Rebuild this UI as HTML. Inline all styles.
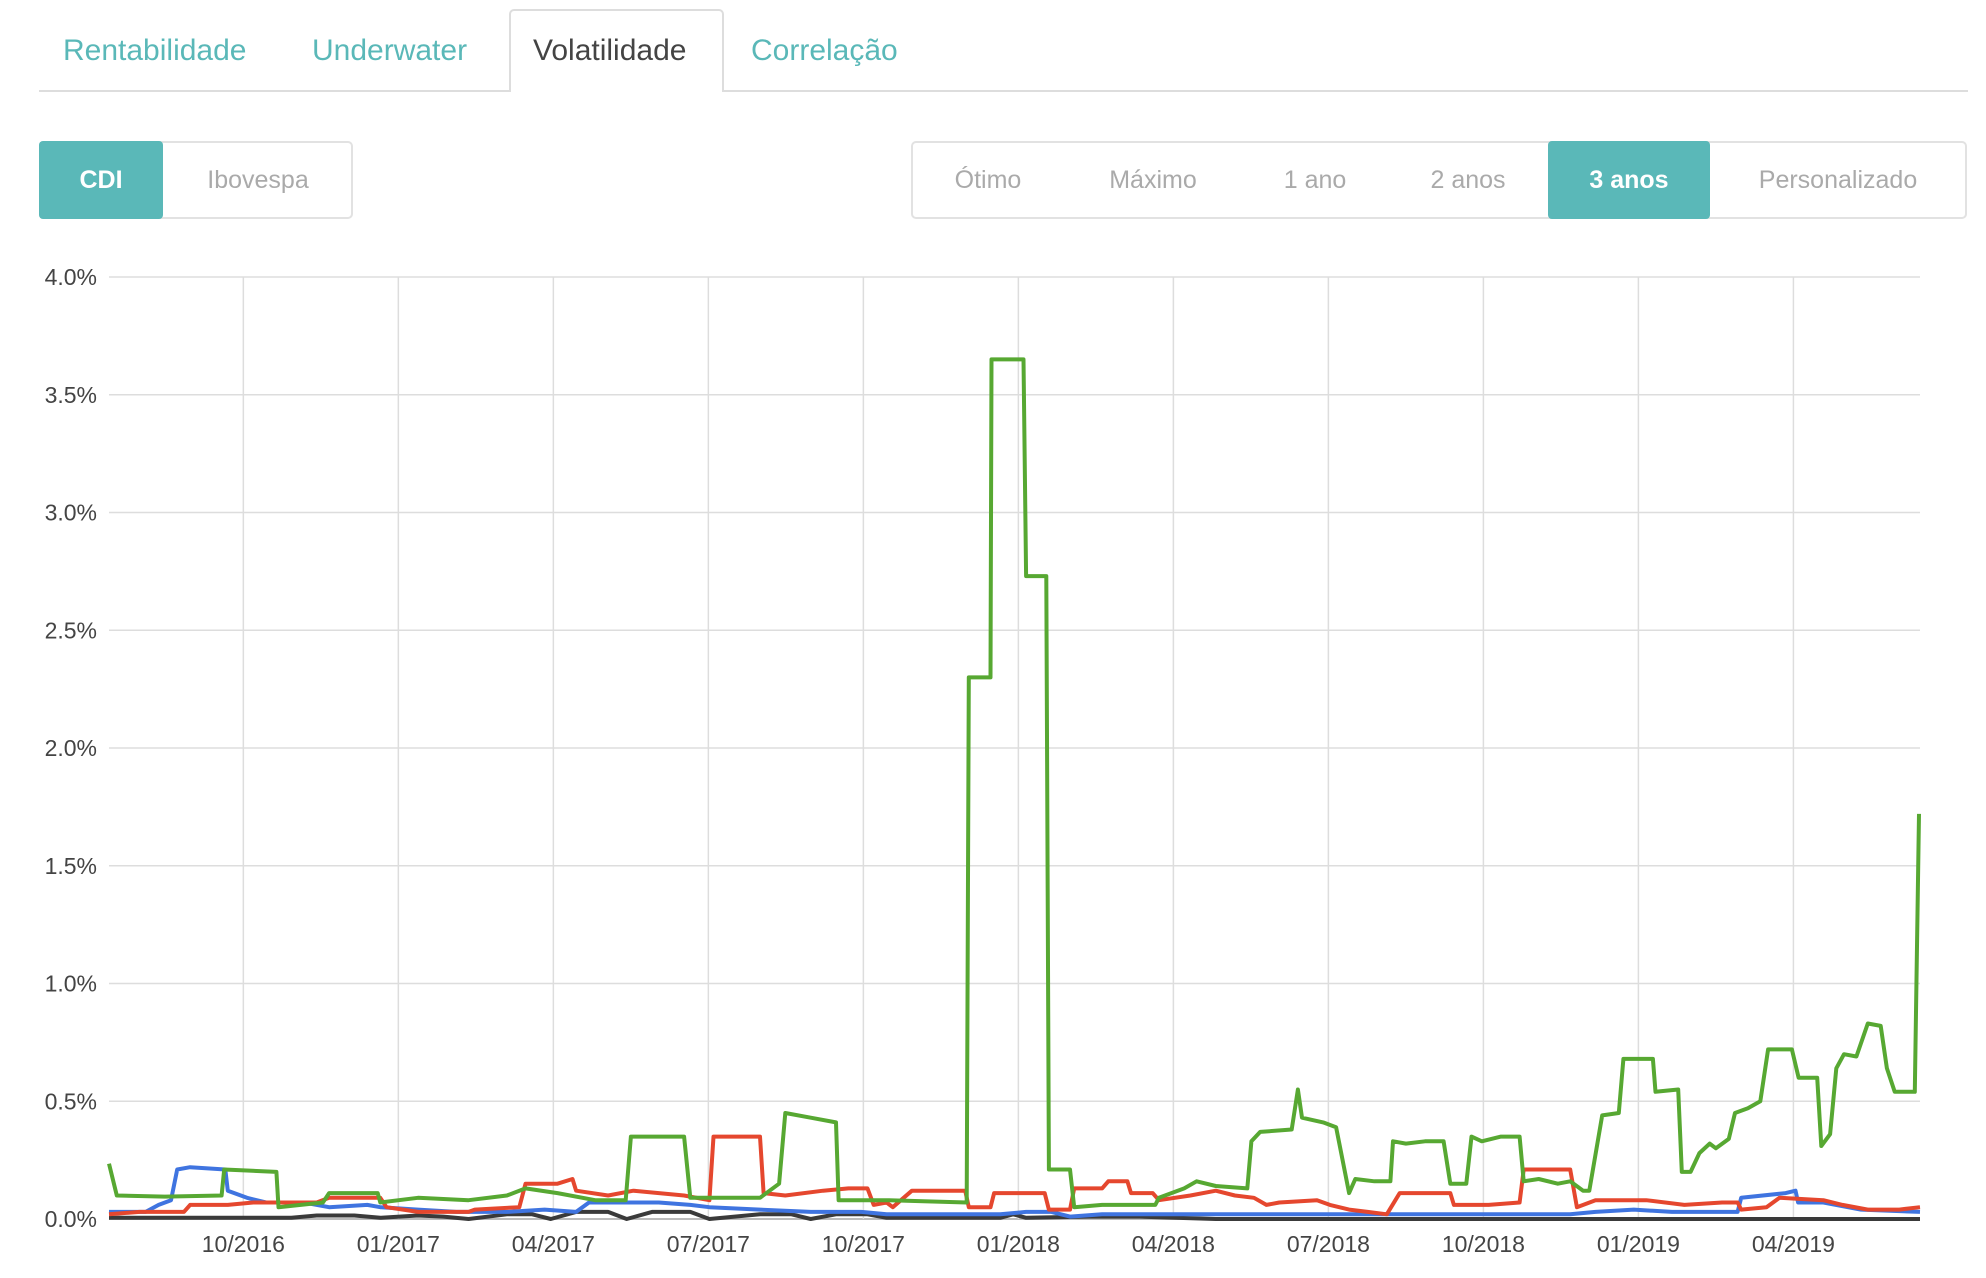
<!DOCTYPE html>
<html><head><meta charset="utf-8"><style>
body{margin:0;width:1986px;height:1278px;background:#fff;font-family:"Liberation Sans",sans-serif;position:relative;overflow:hidden}
.tab{position:absolute;top:34px;font-size:30px;color:#5ab8b8;white-space:nowrap}
.abs{position:absolute}
.btn{position:absolute;top:141px;height:78px;line-height:78px;text-align:center;font-size:25px;color:#aaa;box-sizing:border-box}
.on{background:#5ab8b8;color:#fff;font-weight:bold;border-radius:4px}
</style></head><body>
<div class="abs" style="left:39px;top:90px;width:1929px;height:2px;background:#ddd"></div>
<div class="abs" style="left:509px;top:9px;width:215px;height:83px;border:2px solid #ddd;border-bottom:none;border-radius:5px 5px 0 0;background:#fff;box-sizing:border-box"></div>
<div class="tab" style="left:63px">Rentabilidade</div>
<div class="tab" style="left:312px">Underwater</div>
<div class="tab" style="left:533px;color:#444">Volatilidade</div>
<div class="tab" style="left:751px">Correlação</div>

<div class="abs" style="left:39px;top:141px;width:314px;height:78px;border:2px solid #e2e2e2;border-radius:5px;box-sizing:border-box"></div>
<div class="btn on" style="left:39px;width:124px">CDI</div>
<div class="btn" style="left:163px;width:190px">Ibovespa</div>

<div class="abs" style="left:911px;top:141px;width:1056px;height:78px;border:2px solid #e2e2e2;border-radius:5px;box-sizing:border-box"></div>
<div class="btn" style="left:913px;width:150px">Ótimo</div>
<div class="btn" style="left:1073px;width:160px">Máximo</div>
<div class="btn" style="left:1245px;width:140px">1 ano</div>
<div class="btn" style="left:1398px;width:140px">2 anos</div>
<div class="btn on" style="left:1548px;width:162px">3 anos</div>
<div class="btn" style="left:1710px;width:256px">Personalizado</div>

<svg id="chart" class="abs" style="left:0;top:0" width="1986" height="1278"></svg>
<script>
const yTicks=[0,0.5,1,1.5,2,2.5,3,3.5,4];
const xTickMonths=[3,6,9,12,15,18,21,24,27,30,33];
const xTickLabels=["10/2016","01/2017","04/2017","07/2017","10/2017","01/2018","04/2018","07/2018","10/2018","01/2019","04/2019"];
const greenMonths=[0.40,0.55,1.48,2.58,2.63,3.64,3.68,4.54,4.66,5.60,5.65,6.38,7.36,8.10,8.46,9.08,9.81,10.40,10.50,11.53,11.65,13.00,13.37,13.49,13.98,14.47,14.52,15.45,17.00,17.04,17.46,17.48,18.10,18.15,18.54,18.59,19.00,19.08,19.62,20.65,20.72,21.21,21.45,21.82,22.43,22.51,22.68,23.29,23.41,23.49,23.90,24.15,24.40,24.52,24.89,25.20,25.25,25.50,25.87,26.23,26.36,26.67,26.77,26.97,27.34,27.70,27.78,28.07,28.44,28.68,28.93,29.05,29.30,29.62,29.71,30.28,30.33,30.77,30.84,31.01,31.18,31.38,31.50,31.75,31.87,32.12,32.36,32.51,32.97,33.10,33.46,33.54,33.71,33.83,33.98,34.22,34.44,34.69,34.81,34.96,35.35,35.43];
const greenValues=[0.235,0.10,0.095,0.10,0.21,0.20,0.05,0.07,0.11,0.11,0.07,0.09,0.08,0.10,0.13,0.11,0.08,0.08,0.35,0.35,0.09,0.09,0.15,0.45,0.43,0.41,0.08,0.08,0.07,2.3,2.3,3.65,3.65,2.73,2.73,0.21,0.21,0.05,0.06,0.06,0.09,0.13,0.16,0.14,0.13,0.33,0.37,0.38,0.55,0.43,0.41,0.39,0.11,0.17,0.16,0.16,0.33,0.32,0.33,0.33,0.15,0.15,0.35,0.33,0.35,0.35,0.16,0.17,0.15,0.16,0.12,0.12,0.44,0.45,0.68,0.68,0.54,0.55,0.20,0.20,0.28,0.32,0.30,0.34,0.45,0.47,0.50,0.72,0.72,0.60,0.60,0.31,0.36,0.64,0.70,0.69,0.83,0.82,0.64,0.54,0.54,1.72];
const redMonths=[0.40,0.99,1.85,1.97,2.70,3.19,4.42,4.66,5.65,5.77,6.38,7.36,7.48,8.34,8.46,9.08,9.37,9.44,10.06,10.55,11.53,12.02,12.10,13.00,13.07,13.49,14.22,14.71,15.08,15.20,15.45,15.57,15.94,16.97,17.04,17.46,17.53,18.51,18.59,19.00,19.08,19.62,19.74,20.11,20.18,20.60,20.72,21.33,21.82,22.19,22.56,22.80,23.05,23.78,24.03,24.40,24.76,25.13,25.38,26.36,26.43,27.10,27.70,27.78,28.68,28.81,29.17,30.15,30.89,31.62,31.92,31.99,32.48,32.73,33.58,33.95,34.44,35.05,35.45];
const redValues=[0.02,0.03,0.03,0.06,0.06,0.07,0.07,0.09,0.09,0.05,0.03,0.03,0.04,0.05,0.15,0.15,0.17,0.12,0.10,0.12,0.10,0.08,0.35,0.35,0.11,0.10,0.12,0.13,0.13,0.06,0.07,0.05,0.12,0.12,0.05,0.05,0.11,0.11,0.04,0.04,0.13,0.13,0.16,0.16,0.11,0.11,0.08,0.10,0.12,0.10,0.09,0.06,0.07,0.08,0.06,0.04,0.03,0.02,0.11,0.11,0.06,0.06,0.07,0.21,0.21,0.05,0.08,0.08,0.06,0.07,0.07,0.04,0.05,0.09,0.08,0.06,0.04,0.04,0.05];
const blueMonths=[0.40,1.11,1.36,1.60,1.72,1.97,2.65,2.70,3.07,3.44,4.17,4.66,5.40,5.65,6.38,7.12,8.10,8.83,9.44,9.69,11.04,11.65,12.02,13.00,13.98,14.96,15.45,16.92,17.65,18.15,18.64,19.00,19.62,21.33,22.80,25.25,27.70,28.68,29.17,29.91,30.65,31.92,31.99,32.85,33.04,33.09,33.58,34.31,35.45];
const blueValues=[0.03,0.03,0.06,0.08,0.21,0.22,0.21,0.12,0.09,0.07,0.07,0.05,0.06,0.05,0.04,0.03,0.03,0.04,0.03,0.07,0.07,0.06,0.05,0.04,0.03,0.03,0.02,0.02,0.02,0.03,0.03,0.01,0.02,0.02,0.02,0.02,0.02,0.02,0.03,0.04,0.03,0.03,0.09,0.11,0.12,0.07,0.07,0.04,0.03];
const blackMonths=[0.40,3.93,4.42,5.15,5.65,6.38,6.87,7.36,8.10,8.59,8.95,9.44,10.06,10.42,10.91,11.65,12.02,13.00,13.61,13.98,14.47,15.08,15.45,16.92,17.65,17.90,18.15,19.37,20.35,21.82,35.45];
const blackValues=[0.005,0.005,0.015,0.015,0.005,0.015,0.01,0.0,0.02,0.02,0.0,0.03,0.03,0.0,0.03,0.03,0.0,0.02,0.02,0.0,0.02,0.02,0.005,0.005,0.005,0.02,0.005,0.01,0.01,0.0,0.0];

const svg=document.getElementById('chart');const NS='http://www.w3.org/2000/svg';
const L=109,R=1920,Y0=1219,Y4=277,M0=0.40,M1=35.45;
const xs=m=>L+(m-M0)/(M1-M0)*(R-L);
const ys=v=>Y0-(v/4)*(Y0-Y4);
function mk(t,a){const e=document.createElementNS(NS,t);for(const k in a)e.setAttribute(k,a[k]);svg.appendChild(e);return e;}
yTicks.forEach((v,i)=>{
  const g=mk('line',{x1:L,x2:R,y1:ys(v),y2:ys(v),stroke:v===0?'#bbb':'#ddd','stroke-width':v===0?2:1.5});
  
  
  const t=mk('text',{x:97,y:ys(v)+8,'text-anchor':'end','font-size':23,fill:'#444','font-family':'Liberation Sans, sans-serif'});
  t.textContent=v.toFixed(1)+'%';
  
  
});
xTickMonths.forEach((m,i)=>{
  const g=mk('line',{x1:xs(m),x2:xs(m),y1:Y4,y2:Y0,stroke:'#ddd','stroke-width':1.5});
  
  
  const t=mk('text',{x:xs(m),y:1252,'text-anchor':'middle','font-size':23,fill:'#444','font-family':'Liberation Sans, sans-serif'});
  t.textContent=xTickLabels[i];
  
  
});
function series(ms,vs,color,name){
  const d=ms.map((m,i)=>(i?'L':'M')+xs(m).toFixed(1)+','+ys(vs[i]).toFixed(1)).join('');
  const p=mk('path',{d:d,fill:'none',stroke:color,'stroke-width':4,'stroke-linejoin':'round'});
  
  
}
series(blackMonths,blackValues,'#3a3a3a','series-black-line');
series(blueMonths,blueValues,'#3f74e0','series-blue-line');
series(redMonths,redValues,'#e5472e','series-red-line');
series(greenMonths,greenValues,'#57a832','series-green-line');
</script>
</body></html>
